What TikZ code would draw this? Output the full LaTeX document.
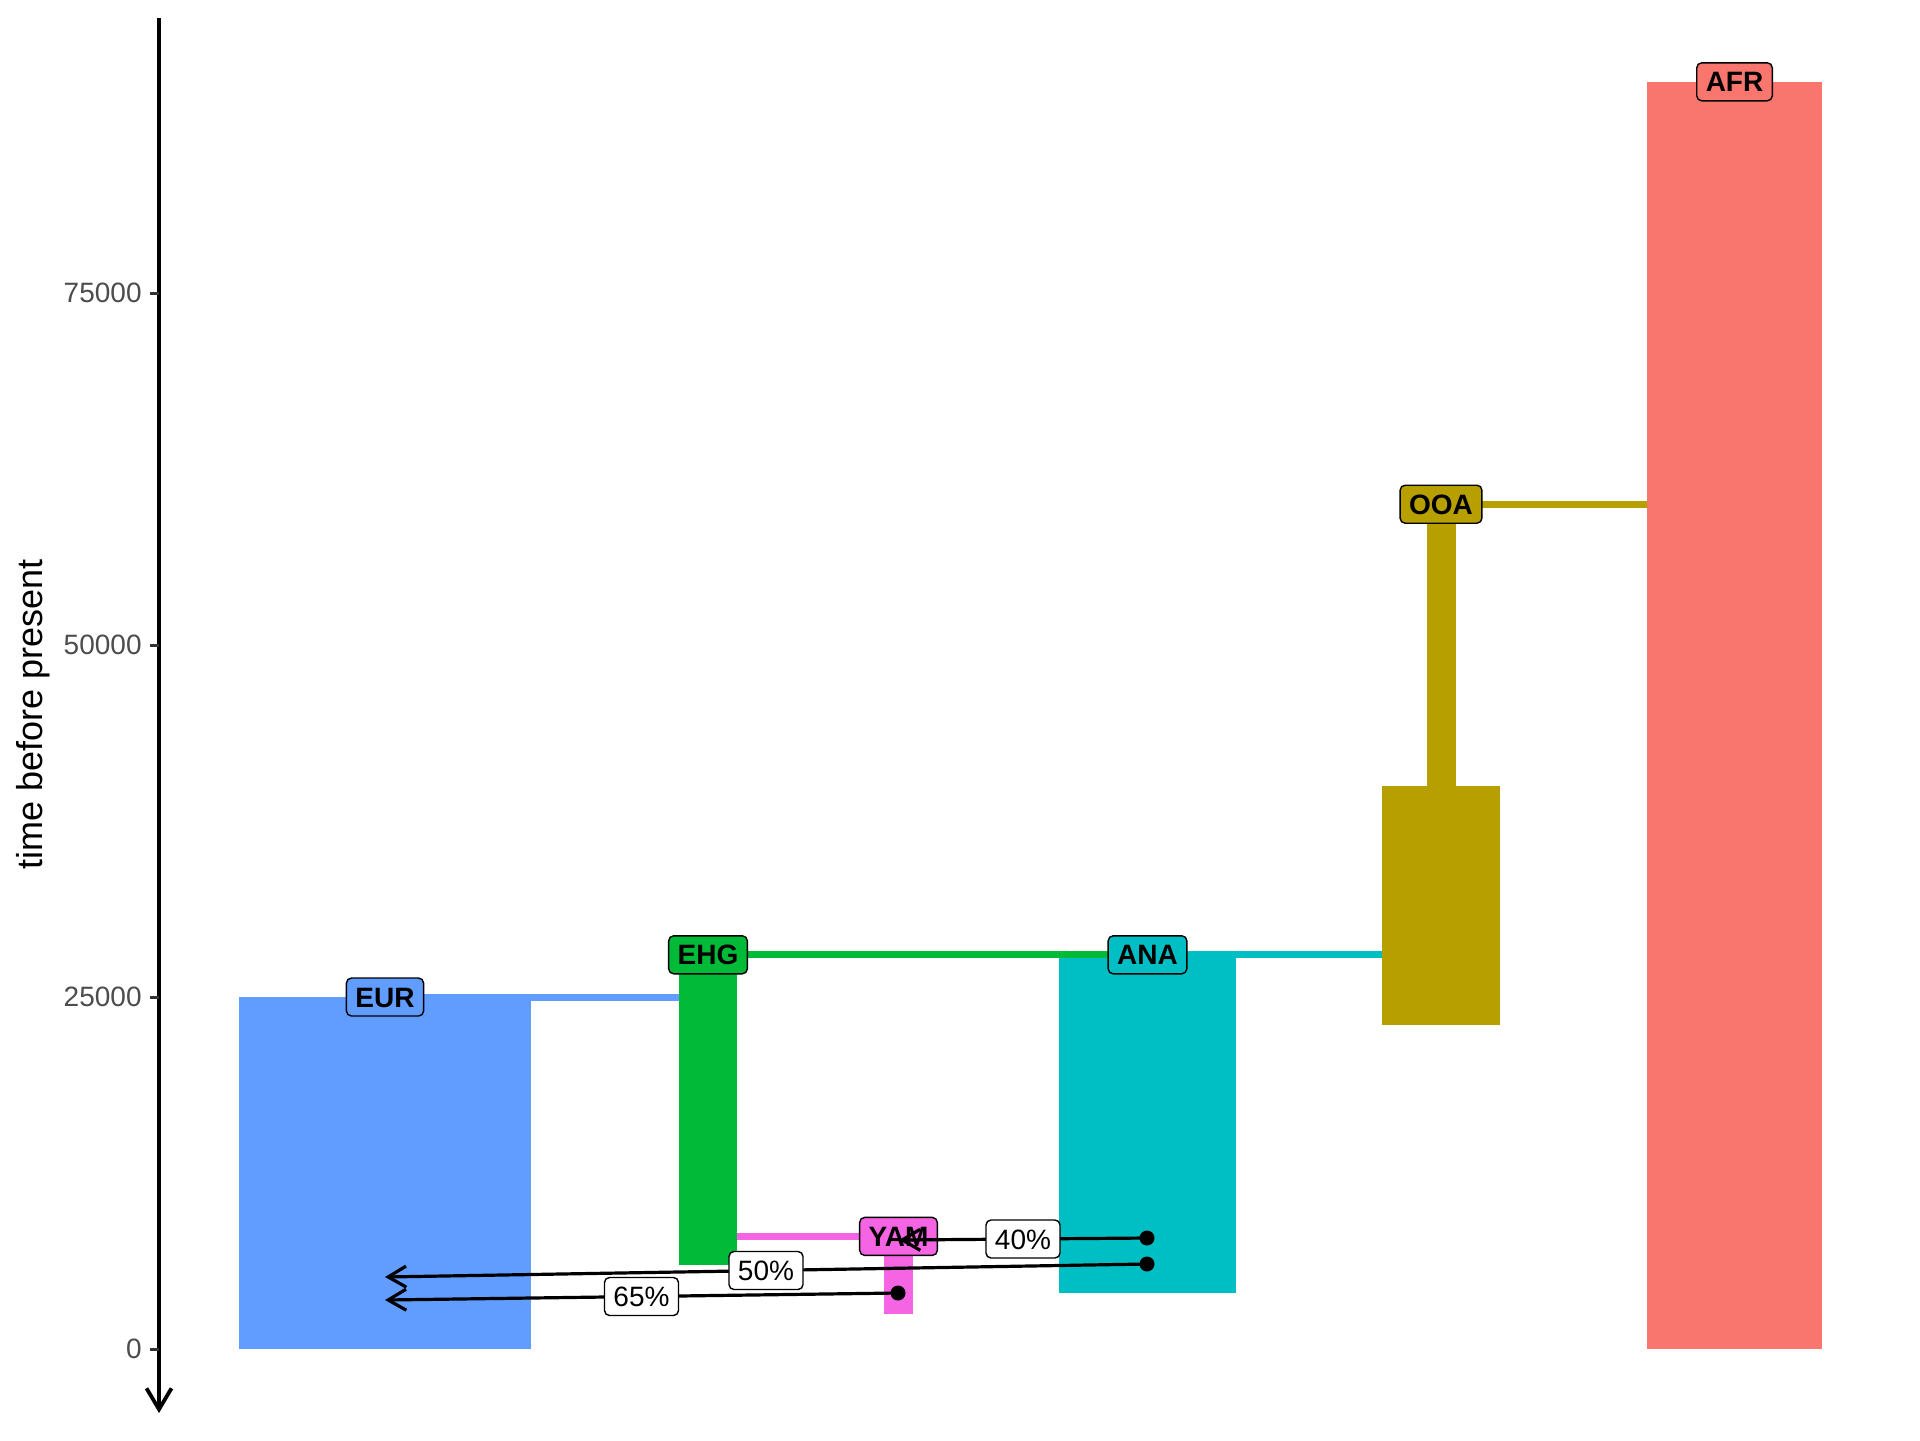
\documentclass[tikz,border=0pt]{standalone}
\usepackage{fontspec}
\setmainfont{Liberation Sans}
\usetikzlibrary{arrows.meta}
\definecolor{cEUR}{HTML}{619CFF}
\definecolor{cEHG}{HTML}{00BA38}
\definecolor{cANA}{HTML}{00BFC4}
\definecolor{cOOA}{HTML}{B79F00}
\definecolor{cAFR}{HTML}{F8766D}
\definecolor{cYAM}{HTML}{F564E3}
\definecolor{ticktext}{HTML}{4D4D4D}
\definecolor{tickline}{HTML}{333333}
\begin{document}
\begin{tikzpicture}[x=0.5pt,y=-0.5pt,
  poplabel/.style={draw=black, line width=0.7pt, rounded corners=2.5pt,
    font=\fontsize{14}{14}\selectfont\bfseries, text height=10pt, text depth=0pt,
    inner xsep=4.5pt, inner ysep=4.5pt},
  pctlabel/.style={draw=black, fill=white, line width=0.7pt, rounded corners=2.5pt,
    font=\fontsize{14}{14}\selectfont, text height=10pt, text depth=0pt,
    inner xsep=4.5pt, inner ysep=4.5pt},
  link/.style={line width=3.5pt},
  admix/.style={line width=1.6pt, -{Straight Barb[length=9pt,width=10.5pt]}},
  axisline/.style={line width=1.9pt, -{Straight Barb[length=10.5pt,width=12.5pt]}},
  tickmark/.style={line width=1.5pt, draw=tickline},
  ticklab/.style={anchor=east, text=ticktext, font=\fontsize{14}{14}\selectfont, inner sep=0pt},
  dot/.style={fill=black}
]
\useasboundingbox (0,0) rectangle (1920,1440);
\fill[white] (0,0) rectangle (1920,1440);

% population centres (x, start time)
\coordinate (EURc) at (385,997);
\coordinate (EHGc) at (708,954.8);
\coordinate (ANAc) at (1147.5,954.8);
\coordinate (OOAc) at (1441,504.2);
\coordinate (AFRc) at (1734.5,81.8);
\coordinate (YAMc) at (898.5,1236.4);

% split links (under the bars)
\draw[link, cEUR] (EURc) -- (EURc -| EHGc);
\draw[link, cANA] (ANAc) -- (ANAc -| OOAc);
\draw[link, cOOA] (OOAc) -- (OOAc -| AFRc);
\draw[link, cYAM] (YAMc) -- (YAMc -| EHGc);

% bars
\fill[cAFR] (1647,81.8) rectangle (1822,1349);
\fill[cOOA] (1427,504.2) rectangle (1456,785.8);
\fill[cOOA] (1382,785.8) rectangle (1500,1025.2);
\fill[cANA] (1059,954.8) rectangle (1236,1292.7);
\fill[cEHG] (679,954.8) rectangle (737,1264.5);
\fill[cEUR] (239,997) rectangle (531,1349);
\fill[cYAM] (884,1236.4) rectangle (913,1313.8);

% EHG link drawn over ANA
\draw[link, cEHG] (EHGc) -- (EHGc -| ANAc);

% axis
\coordinate (axtop) at (159,18);
\coordinate (axbot) at (159,1413);
\draw[axisline] (axtop) -- (axbot);
\foreach \v/\yy in {0/1349,25000/997,50000/645,75000/293}{
  \draw[tickmark] (150,\yy) -- (159,\yy);
  \node[ticklab] (tick\v) at (142,\yy) {\v};
}
\node[rotate=90, font=\fontsize{18}{18}\selectfont, inner sep=0pt] (ytitle) at (33,714) {time before present};

% population labels
\node[poplabel, fill=cEUR] (lEUR) at (EURc) {EUR};
\node[poplabel, fill=cEHG] (lEHG) at (EHGc) {EHG};
\node[poplabel, fill=cANA] (lANA) at (ANAc) {ANA};
\node[poplabel, fill=cOOA] (lOOA) at (OOAc) {OOA};
\node[poplabel, fill=cAFR] (lAFR) at (AFRc) {AFR};
\node[poplabel, fill=cYAM] (lYAM) at (YAMc) {YAM};

% admixture events
\coordinate (s40) at (1147,1238);
\coordinate (e40) at (899,1240);
\coordinate (s50) at (1147,1264);
\coordinate (e50) at (385,1277);
\coordinate (s65) at (898,1293);
\coordinate (e65) at (385,1300);

\draw[admix] (s40) -- (e40) node[pctlabel, midway] (p40) {40\%};
\draw[admix] (s50) -- (e50) node[pctlabel, midway] (p50) {50\%};
\draw[admix] (s65) -- (e65) node[pctlabel, midway] (p65) {65\%};
\fill[dot] (s40) circle[radius=3.75pt];
\fill[dot] (s50) circle[radius=3.75pt];
\fill[dot] (s65) circle[radius=3.75pt];
\end{tikzpicture}
\end{document}
